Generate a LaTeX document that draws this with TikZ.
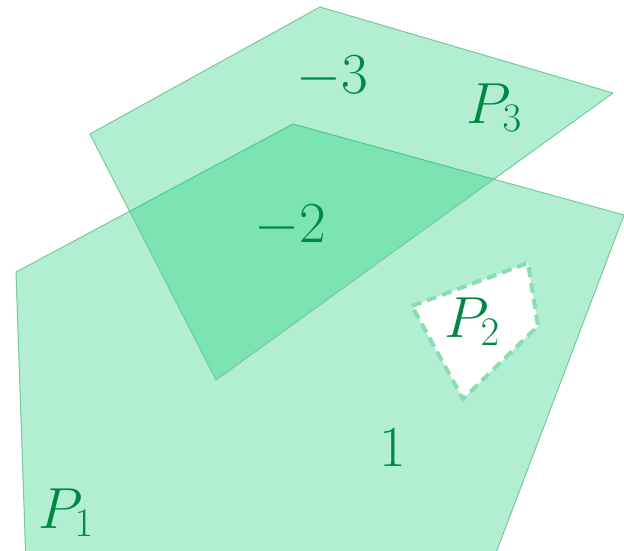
\RequirePackage{fix-cm}
\documentclass[tikz,border=0pt]{standalone}
\usepackage{xcolor}
\usepackage{tikz}
\definecolor{regiongreen}{RGB}{0, 200, 105}
\definecolor{edgegreen}{RGB}{118, 200, 158}
\definecolor{holegreen}{RGB}{135, 222, 176}
\definecolor{labelgreen}{RGB}{0, 136, 68}

\begin{document}
\begin{tikzpicture}[
    x=1pt, y=-1pt,
    regionfill/.style={fill=regiongreen, fill opacity=0.3},
    region/.style={regionfill, draw=edgegreen, line width=1pt, line join=round},
    holeline/.style={draw=holegreen, line width=4pt, dash pattern=on 10pt off 6pt},
    lbl/.style={text=labelgreen, anchor=base, inner sep=0pt, font=\fontsize{58}{60}\selectfont}
]
    \useasboundingbox (0,0) rectangle (624,550);
    \clip (0,0) rectangle (624,550);

    % corners of P1
    \coordinate (a1) at (16,272);
    \coordinate (a2) at (293,124);
    \coordinate (a3) at (624,215);
    \coordinate (a4) at (480,595);
    \coordinate (a5) at (27,595);
    % corners of P2 (the hole)
    \coordinate (h1) at (412,306);
    \coordinate (h2) at (528,263);
    \coordinate (h3) at (538,326);
    \coordinate (h4) at (463,399);

    % P1 with P2 cut out
    \path[regionfill, even odd rule] (a1) -- (a2) -- (a3) -- (a4) -- (a5) -- cycle
        (h1) -- (h2) -- (h3) -- (h4) -- cycle;
    \draw[edgegreen, line width=1pt, line join=round] (a1) -- (a2) -- (a3) -- (a4) -- (a5) -- cycle;
    \draw[holeline] (h1) -- (h2) -- (h3) -- (h4) -- cycle;

    % P3
    \path[region] (320,7) -- (613,93) -- (216,380) -- (90,134) -- cycle;

    \node[lbl] (mthree) at (332,93) {$-3$};
    \node[lbl] (pthree) at (494,123) {$P_3$};
    \node[lbl] (mtwo) at (290,242) {$-2$};
    \node[lbl] (ptwo) at (472,337) {$P_2$};
    \node[lbl] (one) at (393,466) {$1$};
    \node[lbl] (pone) at (66,528) {$P_1$};
\end{tikzpicture}
\end{document}
